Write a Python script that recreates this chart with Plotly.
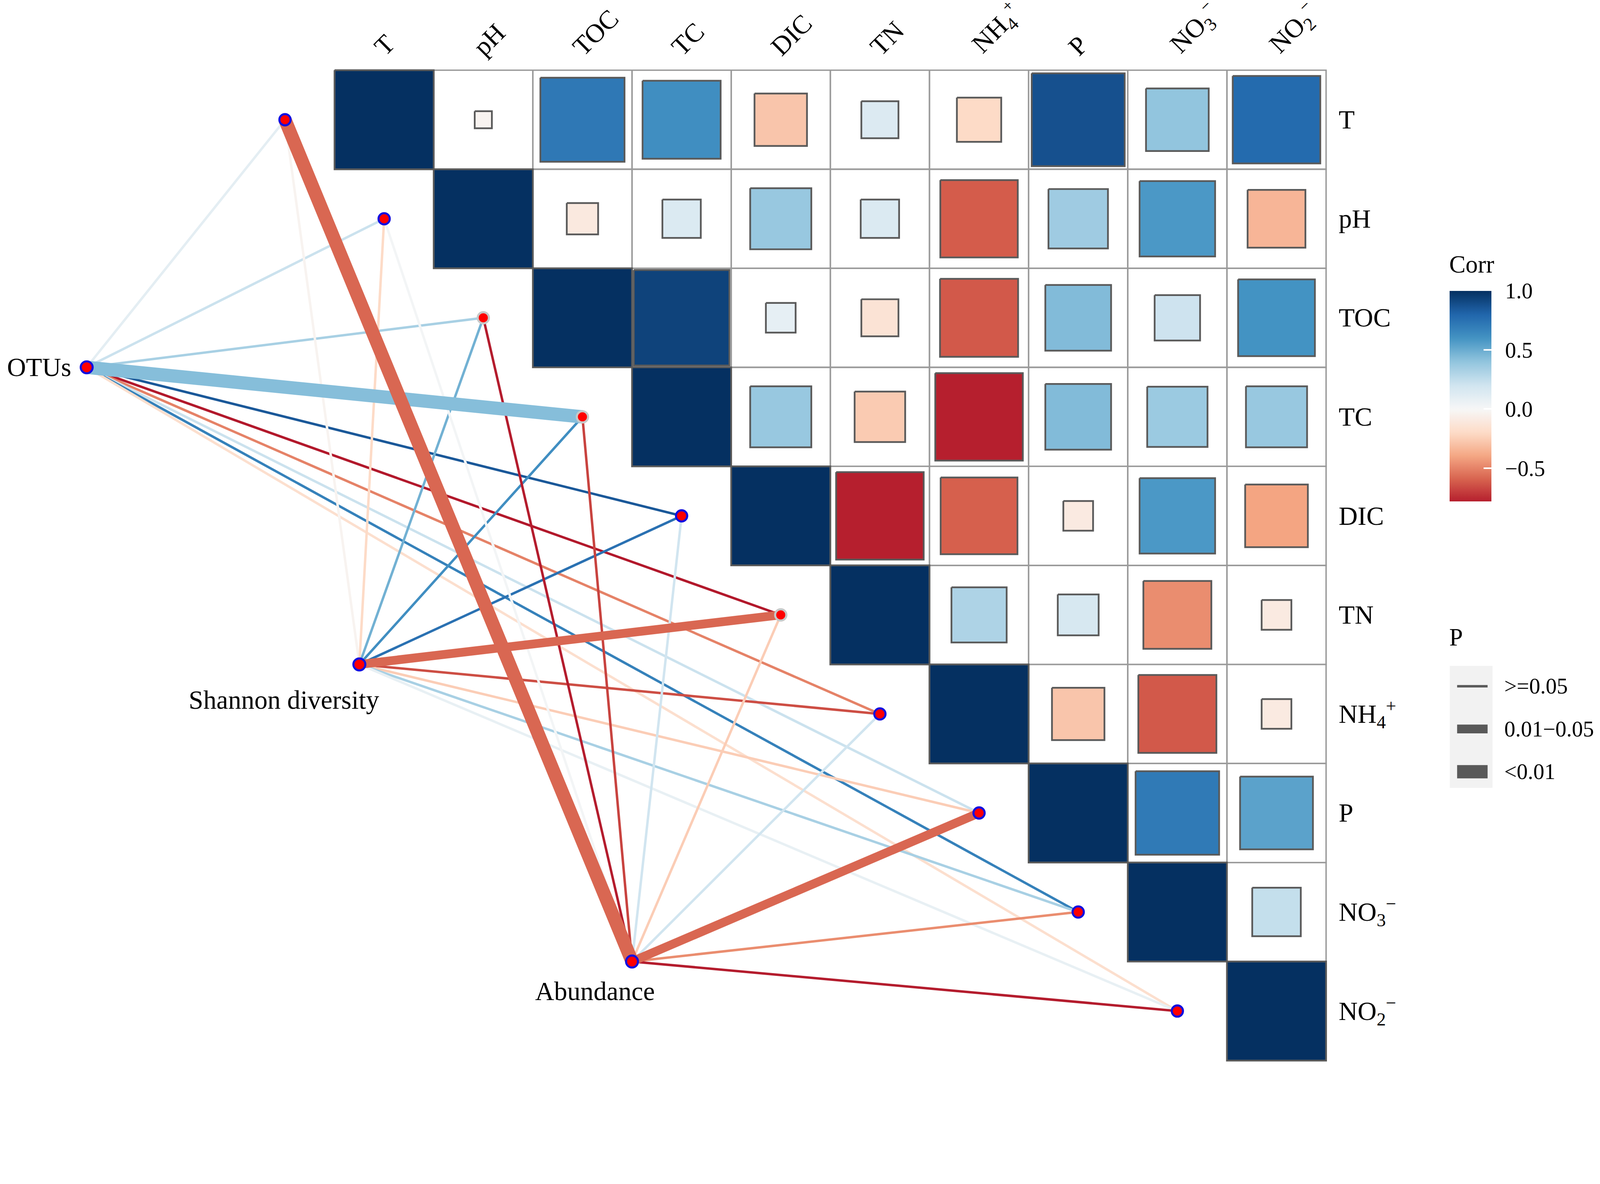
import math
import plotly.graph_objects as go
import plotly.express as px
from plotly.colors import sample_colorscale

# ---------------- data ----------------
variables = ["T", "pH", "TOC", "TC", "DIC", "TN", "NH4+", "P", "NO3-", "NO2-"]
var_labels = ["T", "pH", "TOC", "TC", "DIC", "TN",
              "NH<sub>4</sub><sup>+</sup>", "P",
              "NO<sub>3</sub><sup>\u2212</sup>", "NO<sub>2</sub><sup>\u2212</sup>"]

# upper-triangle correlation rows (row i holds columns i..9)
corr_T   = [1.00, -0.03, 0.72, 0.62, -0.28, 0.14, -0.20, 0.88, 0.40, 0.78]
corr_pH  = [1.00, -0.10, 0.15, 0.38, 0.15, -0.61, 0.36, 0.58, -0.34]
corr_TOC = [1.00, 0.93, 0.09, -0.14, -0.62, 0.44, 0.21, 0.60]
corr_TC  = [1.00, 0.38, -0.26, -0.78, 0.44, 0.37, 0.38]
corr_DIC = [1.00, -0.78, -0.60, -0.09, 0.58, -0.40]
corr_TN  = [1.00, 0.31, 0.17, -0.47, -0.09]
corr_NH4 = [1.00, -0.28, -0.62, -0.09]
corr_P   = [1.00, 0.71, 0.54]
corr_NO3 = [1.00, 0.24]
corr_NO2 = [1.00]
corr_rows = [corr_T, corr_pH, corr_TOC, corr_TC, corr_DIC,
             corr_TN, corr_NH4, corr_P, corr_NO3, corr_NO2]

groups = ["OTUs", "Shannon diversity", "Abundance"]
# edge correlation of each group with T, pH, TOC, TC, DIC, TN, NH4+, P, NO3-, NO2-
edge_r_OTUs      = [0.10, 0.22, 0.33, 0.43, 0.85, -0.80, -0.50, 0.22, 0.68, -0.17]
edge_r_Shannon   = [-0.03, -0.20, 0.48, 0.62, 0.75, -0.58, -0.65, -0.25, 0.33, 0.08]
edge_r_Abundance = [-0.58, 0.02, -0.79, -0.68, 0.20, -0.25, 0.20, -0.58, -0.47, -0.79]
edge_p_OTUs      = [">=0.05", ">=0.05", ">=0.05", "<0.01", ">=0.05",
                    ">=0.05", ">=0.05", ">=0.05", ">=0.05", ">=0.05"]
edge_p_Shannon   = [">=0.05", ">=0.05", ">=0.05", ">=0.05", ">=0.05",
                    "0.01-0.05", ">=0.05", ">=0.05", ">=0.05", ">=0.05"]
edge_p_Abundance = ["<0.01", ">=0.05", ">=0.05", ">=0.05", ">=0.05",
                    ">=0.05", ">=0.05", "0.01-0.05", ">=0.05", ">=0.05"]
edge_r = [edge_r_OTUs, edge_r_Shannon, edge_r_Abundance]
edge_p = [edge_p_OTUs, edge_p_Shannon, edge_p_Abundance]

p_levels = [">=0.05", "0.01-0.05", "<0.01"]
p_level_text = [">=0.05", "0.01\u22120.05", "<0.01"]
colorbar_ticks = [-0.5, 0.0, 0.5, 1.0]

# ---------------- style / layout ----------------
RW, RH = 4550, 3032          # reference frame (design coordinates)
K = 0.897                    # render scale so the whole figure fits the visible viewport
W, H = round(RW * K), round(RH * K)
FONT = "Liberation Serif"
X0, SX = 946.0, 283.0        # design pixel of x=0, pixels per cell
Y0, SY = 191.5, 282.7
xr = [-X0 / SX, (RW - X0) / SX]
yr = [(RH - Y0) / SY, -Y0 / SY]


def px_(v):
    return v * K


def paper_x(v):
    return v / RW


def paper_y(v):
    return 1 - v / RH


group_anchor = [(-2.5, 3.0), (0.25, 6.0), (3.0, 9.0)]
p_width = {">=0.05": 7, "0.01-0.05": 25, "<0.01": 38}
end_outline = ["#1010e0", "#1010e0", "#c8c8c8", "#c8c8c8", "#1010e0",
               "#c8c8c8", "#1010e0", "#1010e0", "#1010e0", "#1010e0"]
FS_LABEL = px_(75)
FS_TITLE = px_(70)
FS_TICK = px_(63)

rdbu = px.colors.diverging.RdBu  # ColorBrewer RdBu, red -> blue


def corr_color(v):
    return sample_colorscale(rdbu, [(v + 1) / 2])[0]


fig = go.Figure()

# grid of the upper triangle
gx, gy = [], []
n = len(variables)
for i in range(n):
    for j in range(i, n):
        gx += [j, j + 1, j + 1, j, j, None]
        gy += [i, i, i + 1, i + 1, i, None]
fig.add_trace(go.Scatter(x=gx, y=gy, mode="lines",
                         line=dict(color="#9a9a9a", width=px_(4)),
                         hoverinfo="skip", showlegend=False))

# squares (side proportional to sqrt(|r|))
for i, row in enumerate(corr_rows):
    for k, r in enumerate(row):
        j = i + k
        s = 1.0 if j == i else math.sqrt(abs(r))
        cx, cy, h = j + 0.5, i + 0.5, s / 2
        fig.add_trace(go.Scatter(
            x=[cx - h, cx + h, cx + h, cx - h, cx - h],
            y=[cy - h, cy - h, cy + h, cy + h, cy - h],
            mode="lines", fill="toself", fillcolor=corr_color(r),
            line=dict(color="#5a5a5a", width=px_(5)),
            hoverinfo="text", text=f"{variables[i]} - {variables[j]}: {r:.2f}",
            showlegend=False))

# edges (thin first, thick on top)
edges = []
for g in range(len(groups)):
    for i in range(n):
        edges.append((p_width[edge_p[g][i]], g, i))
edges.sort(key=lambda e: e[0])
for w, g, i in edges:
    gx0, gy0 = group_anchor[g]
    fig.add_trace(go.Scatter(
        x=[gx0, i - 0.5], y=[gy0, i + 0.5], mode="lines",
        line=dict(color=corr_color(edge_r[g][i]), width=px_(w)),
        hoverinfo="text",
        text=f"{groups[g]} - {variables[i]}: r={edge_r[g][i]:.2f}, P {edge_p[g][i]}",
        showlegend=False))

# end nodes
fig.add_trace(go.Scatter(
    x=[i - 0.5 for i in range(n)], y=[i + 0.5 for i in range(n)],
    mode="markers",
    marker=dict(size=px_(32), color="#ff0000", line=dict(color=end_outline, width=px_(6))),
    hoverinfo="skip", showlegend=False))
# group nodes
fig.add_trace(go.Scatter(
    x=[a[0] for a in group_anchor], y=[a[1] for a in group_anchor],
    mode="markers",
    marker=dict(size=px_(34), color="#ff0000", line=dict(color="#1010e0", width=px_(6))),
    hoverinfo="skip", showlegend=False))

# colorbar: bar with white inside ticks + separate label strip
cmin = min(min(r) for r in corr_rows)
cmax = 1.0
ncb = 60
cb_scale = []
for k in range(ncb + 1):
    t = k / ncb
    v = cmin + t * (cmax - cmin)
    cb_scale.append([t, corr_color(v)])
CB_TOP, CB_BOT, CB_LEFT, CB_THICK = 821, 1422, 4129, 119
fig.add_trace(go.Scatter(
    x=[None], y=[None], mode="markers",
    marker=dict(color=[0], cmin=cmin, cmax=cmax, colorscale=cb_scale, showscale=True,
                colorbar=dict(
                    tickvals=colorbar_ticks, showticklabels=False,
                    ticks="inside", ticklen=px_(22), tickwidth=px_(4), tickcolor="white",
                    thickness=px_(CB_THICK), thicknessmode="pixels",
                    len=px_(CB_BOT - CB_TOP), lenmode="pixels",
                    x=paper_x(CB_LEFT), xanchor="left", xpad=0,
                    y=paper_y(CB_TOP), yanchor="top", ypad=0,
                    outlinewidth=0)),
    hoverinfo="skip", showlegend=False))
fig.add_trace(go.Scatter(
    x=[None], y=[None], mode="markers",
    marker=dict(color=[0], cmin=cmin, cmax=cmax,
                colorscale=[[0, "rgba(255,255,255,0)"], [1, "rgba(255,255,255,0)"]],
                showscale=True,
                colorbar=dict(
                    tickvals=colorbar_ticks, tickformat=".1f",
                    ticks="outside", ticklen=px_(26), tickwidth=1, tickcolor="rgba(0,0,0,0)",
                    tickfont=dict(family=FONT, size=FS_TICK, color="black"),
                    thickness=1, thicknessmode="pixels",
                    len=px_(CB_BOT - CB_TOP), lenmode="pixels",
                    x=paper_x(CB_LEFT + CB_THICK), xanchor="left", xpad=0,
                    y=paper_y(CB_TOP), yanchor="top", ypad=0,
                    outlinewidth=0)),
    hoverinfo="skip", showlegend=False))

annotations = []
annotations.append(dict(x=paper_x(CB_LEFT - 4), y=paper_y(746), xref="paper", yref="paper", text="Corr",
                        showarrow=False, xanchor="left", yanchor="middle",
                        font=dict(family=FONT, size=FS_TITLE, color="black")))
# right labels
for i in range(n):
    annotations.append(dict(x=10.12, y=i + 0.5, xref="x", yref="y", text=var_labels[i],
                            showarrow=False, xanchor="left", yanchor="middle",
                            font=dict(family=FONT, size=FS_LABEL, color="black")))
# top labels
for j in range(n):
    annotations.append(dict(x=j + 0.5 - 0.17, y=-0.08, xref="x", yref="y", text=var_labels[j],
                            showarrow=False, xanchor="left", yanchor="bottom", textangle=-45,
                            font=dict(family=FONT, size=FS_LABEL, color="black")))
# group labels
gl = [dict(dx=-0.15, dy=0.0, xa="right", ya="middle"),
      dict(dx=-0.76, dy=0.36, xa="center", ya="middle"),
      dict(dx=-0.375, dy=0.30, xa="center", ya="middle")]
for g in range(len(groups)):
    annotations.append(dict(x=group_anchor[g][0] + gl[g]["dx"], y=group_anchor[g][1] + gl[g]["dy"],
                            xref="x", yref="y", text=groups[g], showarrow=False,
                            xanchor=gl[g]["xa"], yanchor=gl[g]["ya"],
                            font=dict(family=FONT, size=FS_LABEL, color="black")))

# P legend (manual)
shapes = []
shapes.append(dict(type="rect", xref="paper", yref="paper",
                   x0=paper_x(4129), x1=paper_x(4251), y0=paper_y(2240), y1=paper_y(1892),
                   fillcolor="#f2f2f2", line=dict(width=0), layer="above"))
annotations.append(dict(x=paper_x(4125), y=paper_y(1810), xref="paper", yref="paper", text="P",
                        showarrow=False, xanchor="left", yanchor="middle",
                        font=dict(family=FONT, size=FS_TITLE, color="black")))
leg_y = [1950, 2072, 2194]
for k, lev in enumerate(p_levels):
    yy = paper_y(leg_y[k])
    shapes.append(dict(type="line", xref="paper", yref="paper",
                       x0=paper_x(4150), x1=paper_x(4237), y0=yy, y1=yy,
                       line=dict(color="#595959", width=px_(p_width[lev])), layer="above"))
    annotations.append(dict(x=paper_x(4282), y=yy, xref="paper", yref="paper", text=p_level_text[k],
                            showarrow=False, xanchor="left", yanchor="middle",
                            font=dict(family=FONT, size=FS_TICK, color="black")))

fig.update_layout(
    width=W, height=H,
    margin=dict(l=0, r=0, t=0, b=0),
    paper_bgcolor="white", plot_bgcolor="white",
    xaxis=dict(range=xr, visible=False, showgrid=False, zeroline=False),
    yaxis=dict(range=yr, visible=False, showgrid=False, zeroline=False),
    annotations=annotations, shapes=shapes,
    showlegend=False,
    font=dict(family=FONT),
)

fig.write_html("out.html")
